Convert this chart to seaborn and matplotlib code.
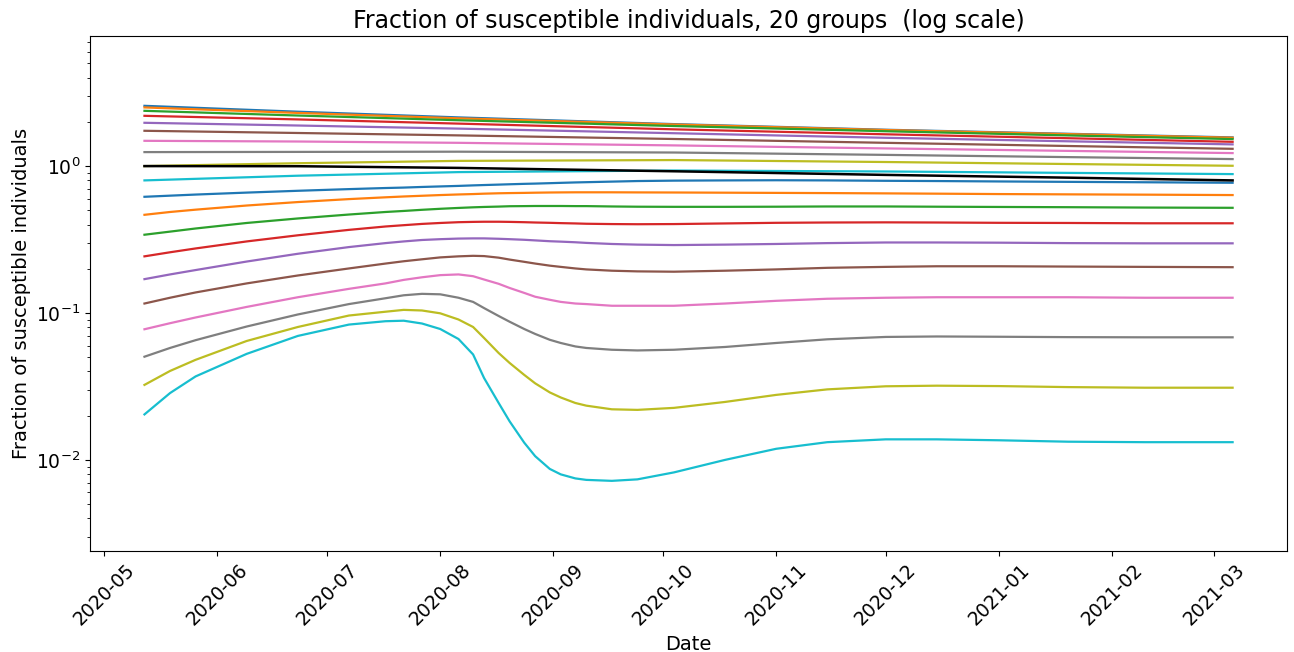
import matplotlib
matplotlib.use("Agg")
from matplotlib import pyplot as plt
import pandas as pd
import seaborn as sns

# sampling dates
dates_coarse = pd.to_datetime([
    "2020-05-12", "2020-06-23", "2020-08-06", "2020-10-04",
    "2020-12-01", "2021-01-20", "2021-03-06"])
dates_fine = pd.to_datetime([
    "2020-05-12", "2020-05-19", "2020-05-26", "2020-06-09", "2020-06-23",
    "2020-07-07", "2020-07-17", "2020-07-22", "2020-07-27", "2020-08-01",
    "2020-08-06", "2020-08-10", "2020-08-13", "2020-08-17", "2020-08-20",
    "2020-08-24", "2020-08-27", "2020-08-31", "2020-09-03", "2020-09-07",
    "2020-09-10", "2020-09-17", "2020-09-24", "2020-10-04", "2020-10-18",
    "2020-11-01", "2020-11-15", "2020-12-01", "2020-12-15", "2021-01-01",
    "2021-01-20", "2021-02-10", "2021-03-06"])

# groups above 1 (nearly straight lines), one row per group
upper_groups = [
    [2.572, 2.345, 2.145, 1.931, 1.768, 1.659, 1.568],
    [2.508, 2.301, 2.114, 1.919, 1.760, 1.651, 1.560],
    [2.378, 2.209, 2.052, 1.874, 1.727, 1.617, 1.527],
    [2.199, 2.078, 1.946, 1.779, 1.646, 1.548, 1.463],
    [1.971, 1.889, 1.799, 1.674, 1.558, 1.475, 1.405],
    [1.739, 1.680, 1.618, 1.529, 1.440, 1.370, 1.311],
    [1.486, 1.470, 1.440, 1.383, 1.319, 1.269, 1.226],
    [1.245, 1.249, 1.253, 1.237, 1.192, 1.151, 1.116],
    [1.000, 1.046, 1.085, 1.099, 1.066, 1.033, 1.005],
    [0.799, 0.860, 0.910, 0.933, 0.919, 0.899, 0.882],
]

# average over all groups (black line)
mean_curve = [1.000, 0.998, 0.972, 0.922, 0.871, 0.834, 0.799]

# groups below 1, with the summer bump
lower_groups = [
    [0.618, 0.629, 0.640, 0.660, 0.679, 0.697, 0.709, 0.714, 0.721, 0.727,
     0.733, 0.739, 0.743, 0.748, 0.752, 0.757, 0.760, 0.765, 0.769, 0.774,
     0.777, 0.784, 0.791, 0.796, 0.799, 0.801, 0.799, 0.794, 0.791, 0.786,
     0.781, 0.776, 0.770],
    [0.466, 0.487, 0.505, 0.539, 0.569, 0.596, 0.613, 0.621, 0.628, 0.635,
     0.641, 0.645, 0.649, 0.653, 0.655, 0.657, 0.659, 0.661, 0.662, 0.663,
     0.663, 0.663, 0.662, 0.661, 0.659, 0.657, 0.655, 0.652, 0.649, 0.645,
     0.642, 0.639, 0.635],
    [0.341, 0.358, 0.376, 0.410, 0.440, 0.468, 0.487, 0.495, 0.504, 0.512,
     0.519, 0.524, 0.527, 0.530, 0.533, 0.534, 0.535, 0.535, 0.535, 0.534,
     0.534, 0.531, 0.529, 0.528, 0.528, 0.529, 0.531, 0.531, 0.529, 0.527,
     0.525, 0.522, 0.520],
    [0.243, 0.259, 0.275, 0.307, 0.338, 0.368, 0.388, 0.396, 0.404, 0.410,
     0.415, 0.417, 0.418, 0.418, 0.417, 0.415, 0.413, 0.411, 0.409, 0.407,
     0.405, 0.403, 0.402, 0.403, 0.407, 0.411, 0.413, 0.414, 0.413, 0.411,
     0.410, 0.408, 0.408],
    [0.170, 0.183, 0.196, 0.224, 0.253, 0.281, 0.299, 0.307, 0.314, 0.318,
     0.321, 0.322, 0.322, 0.320, 0.318, 0.315, 0.312, 0.308, 0.306, 0.303,
     0.300, 0.295, 0.292, 0.290, 0.292, 0.295, 0.299, 0.302, 0.302, 0.301,
     0.299, 0.298, 0.298],
    [0.116, 0.127, 0.138, 0.159, 0.180, 0.201, 0.217, 0.225, 0.232, 0.239,
     0.243, 0.245, 0.244, 0.238, 0.231, 0.223, 0.217, 0.210, 0.206, 0.201,
     0.198, 0.194, 0.192, 0.191, 0.194, 0.198, 0.203, 0.206, 0.208, 0.208,
     0.207, 0.206, 0.205],
    [0.0775, 0.0852, 0.0932, 0.110, 0.128, 0.146, 0.159, 0.168, 0.175, 0.181,
     0.183, 0.178, 0.169, 0.158, 0.148, 0.137, 0.129, 0.123, 0.119, 0.116,
     0.115, 0.112, 0.112, 0.112, 0.116, 0.121, 0.125, 0.127, 0.128, 0.128,
     0.128, 0.127, 0.127],
    [0.0504, 0.0578, 0.0653, 0.0809, 0.0977, 0.115, 0.126, 0.132, 0.135, 0.134,
     0.127, 0.119, 0.108, 0.0954, 0.0872, 0.0778, 0.0720, 0.0657, 0.0625,
     0.0592, 0.0578, 0.0562, 0.0556, 0.0562, 0.0587, 0.0625, 0.0662, 0.0687,
     0.0692, 0.0689, 0.0685, 0.0683, 0.0683],
    [0.0324, 0.0403, 0.0480, 0.0645, 0.0803, 0.0961, 0.102, 0.105, 0.104,
     0.0995, 0.0903, 0.0803, 0.0676, 0.0534, 0.0457, 0.0379, 0.0332, 0.0288,
     0.0266, 0.0244, 0.0234, 0.0221, 0.0219, 0.0226, 0.0248, 0.0277, 0.0302,
     0.0317, 0.0320, 0.0318, 0.0313, 0.0310, 0.0310],
    [0.0204, 0.0285, 0.0370, 0.0527, 0.0698, 0.0834, 0.0879, 0.0886, 0.0848,
     0.0778, 0.0665, 0.0522, 0.0361, 0.0244, 0.0183, 0.0131, 0.0106, 0.00868,
     0.00797, 0.00748, 0.00731, 0.00720, 0.00737, 0.00822, 0.0100, 0.0119,
     0.0132, 0.0138, 0.0138, 0.0136, 0.0133, 0.0132, 0.0132],
]

palette = sns.color_palette("tab10")

fig = plt.figure(figsize=(12.94, 6.52), dpi=100)
ax = fig.add_axes([0.0696, 0.155, 0.925, 0.79])

for i, vals in enumerate(upper_groups):
    sns.lineplot(x=dates_coarse, y=vals, color=palette[i % 10], linewidth=1.6, ax=ax)
for i, vals in enumerate(lower_groups):
    sns.lineplot(x=dates_fine, y=vals, color=palette[i % 10], linewidth=1.6, ax=ax)
sns.lineplot(x=dates_coarse, y=mean_curve, color="black", linewidth=1.8, ax=ax)

ax.set_yscale("log")
ax.set_ylim(0.0024, 7.7)
ax.set_title("Fraction of susceptible individuals, 20 groups  (log scale)", fontsize=17)
ax.set_xlabel("Date", fontsize=14)
ax.set_ylabel("Fraction of susceptible individuals", fontsize=14)
ax.tick_params(axis="both", labelsize=13.5)
plt.setp(ax.get_xticklabels(), rotation=45)

fig.savefig("out.png", dpi=100)
